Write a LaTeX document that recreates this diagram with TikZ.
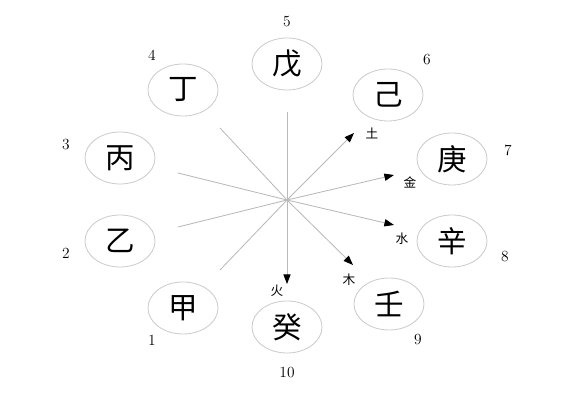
\documentclass[tikz,border=0pt]{standalone}
\usepackage{fontspec}
\newfontfamily\cjk{Noto Sans CJK SC}
\usetikzlibrary{arrows.meta,shapes.geometric}
\tikzset{
	stem/.style={draw=gray!40,line width=0.6pt,ellipse,minimum width=1.75cm,minimum height=1.3cm,inner sep=0pt,font=\cjk\fontsize{21}{21}\selectfont},
	num/.style={font=\fontsize{11}{11}\selectfont},
	elem/.style={font=\cjk\fontsize{9}{9}\selectfont},
	ray/.style={draw=gray!55,line width=0.6pt},
	flow/.style={ray,-{Triangle[black,length=2.4mm,width=1.8mm]}}
}

\begin{document}
\begin{tikzpicture}[x=0.025cm,y=-0.025cm]
		\useasboundingbox (0,0) rectangle (580,400);
		
		\node[stem] (jia) at (183,308) {甲};
		\node[stem] (yi) at (120,241) {乙};
		\node[stem] (bing) at (120,158) {丙};
		\node[stem] (ding) at (183,90) {丁};
		\node[stem] (wu) at (287,64) {戊};
		\node[stem] (ji) at (388,95) {己};
		\node[stem] (geng) at (452,159) {庚};
		\node[stem] (xin) at (452,241) {辛};
		\node[stem] (ren) at (389,304) {壬};
		\node[stem] (gui) at (287,327) {癸};
		
		\node[num] (n1) at (152,340) {1};
		\node[num] (n2) at (66,253) {2};
		\node[num] (n3) at (66,145) {3};
		\node[num] (n4) at (152,55) {4};
		\node[num] (n5) at (287,22) {5};
		\node[num] (n6) at (427,60) {6};
		\node[num] (n7) at (508,150) {7};
		\node[num] (n8) at (505,257) {8};
		\node[num] (n9) at (418,340) {9};
		\node[num] (n10) at (287,373) {10};
		
		\coordinate (o) at (287,200); % centre
		\coordinate (ejia) at (220,270);
		\coordinate (eyi) at (178,227);
		\coordinate (ebing) at (178,173);
		\coordinate (eding) at (220,128);
		\coordinate (ewu) at (287,112);
		\coordinate (eji) at (354,133); % tu
		\coordinate (egeng) at (394,175); % jin
		\coordinate (exin) at (394,225); % shui
		\coordinate (eren) at (353,265); % mu
		\coordinate (egui) at (287,284); % huo
		
		\node[elem] (tu) at (372,133) {土};
		\node[elem] (jin) at (410,182) {金};
		\node[elem] (shui) at (402,239) {水};
		\node[elem] (mu) at (349,280) {木};
		\node[elem] (huo) at (277,291) {火};
		
		\draw[ray] (ejia) -- (o);
		\draw[ray] (eyi) -- (o);
		\draw[ray] (ebing) -- (o);
		\draw[ray] (eding) -- (o);
		\draw[ray] (ewu) -- (o);
		\draw[flow] (o) -- (eji);
		\draw[flow] (o) -- (egeng);
		\draw[flow] (o) -- (exin);
		\draw[flow] (o) -- (eren);
		\draw[flow] (o) -- (egui);
	\end{tikzpicture}
\end{document}
